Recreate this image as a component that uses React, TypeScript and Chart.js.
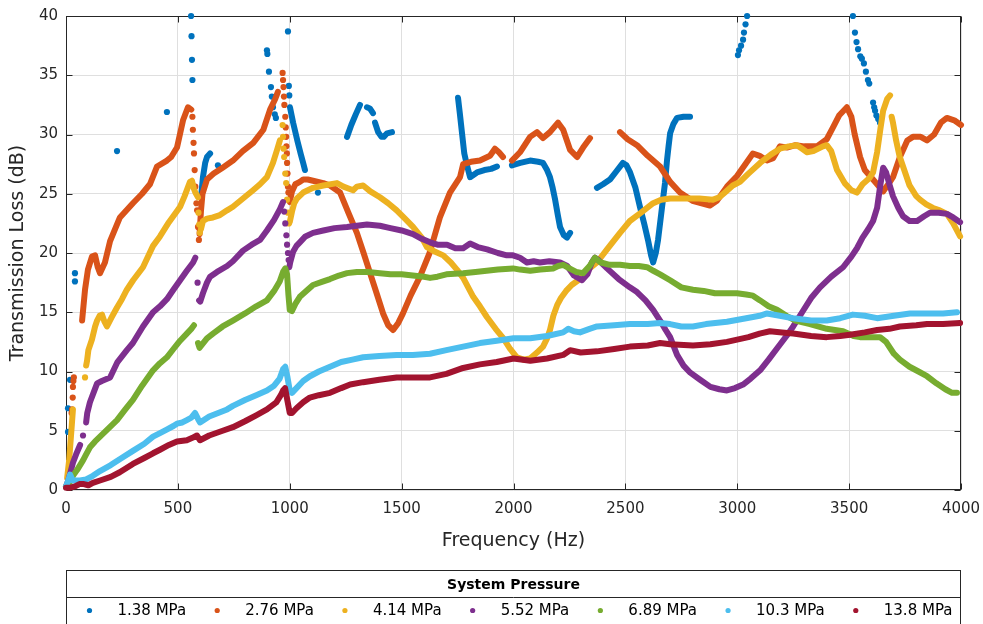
import React, { useEffect, useRef } from 'react';
import { Chart, registerables } from 'chart.js';

Chart.register(...registerables);

type Pt = [number, number];

const SERIES_LABELS = ['1.38 MPa', '2.76 MPa', '4.14 MPa', '5.52 MPa', '6.89 MPa', '10.3 MPa', '13.8 MPa'];
const SERIES_COLORS = ['#0072BD', '#D95319', '#EDB120', '#7E2F8E', '#77AC30', '#4DBEEE', '#A2142F'];
const X_TICKS = [0, 500, 1000, 1500, 2000, 2500, 3000, 3500, 4000];
const Y_TICKS = [0, 5, 10, 15, 20, 25, 30, 35, 40];
const LEGEND_TITLE = 'System Pressure';
const X_TITLE = 'Frequency (Hz)';
const Y_TITLE = 'Transmission Loss (dB)';

// 1.38 MPa
const P138_SEGMENTS: Pt[][] = [
  [[605, 25.0], [612, 26.4], [622, 27.6], [630, 28.1], [644, 28.4]],
  [[1001, 32.3], [1015, 31.0], [1035, 29.4], [1050, 28.3], [1060, 27.6], [1068, 27.0]],
  [[1256, 29.8], [1275, 30.8], [1295, 31.7], [1314, 32.5]],
  [[1345, 32.3], [1358, 32.2], [1372, 31.8]],
  [[1381, 31.0], [1395, 30.2], [1410, 29.8], [1420, 29.8], [1435, 30.1], [1457, 30.2]],
  [[1752, 33.1], [1760, 31.8], [1770, 30.1], [1780, 28.4], [1792, 27.4], [1806, 26.4], [1837, 26.8], [1870, 27.0], [1900, 27.1], [1926, 27.3]],
  [[1993, 27.4], [2030, 27.6], [2074, 27.8], [2110, 27.7], [2132, 27.6], [2150, 27.0], [2163, 26.4], [2175, 25.5], [2186, 24.5], [2198, 23.2], [2208, 22.2], [2225, 21.5], [2239, 21.3], [2253, 21.7]],
  [[2373, 25.5], [2400, 25.8], [2431, 26.2], [2460, 26.9], [2489, 27.6], [2505, 27.4], [2521, 26.8], [2545, 25.5], [2565, 23.9], [2585, 22.4], [2601, 21.1], [2615, 19.8], [2624, 19.2], [2636, 20.0], [2646, 21.1], [2655, 22.5], [2664, 23.9], [2677, 25.9], [2686, 27.8], [2693, 29.0], [2700, 30.1], [2715, 30.9], [2731, 31.4], [2760, 31.5], [2789, 31.5]],
];
const P138_DOTS: Pt[] = [
  [9, 4.9], [9, 6.9], [18, 9.3], [40, 17.6], [40, 18.3], [228, 28.6], [451, 31.9],
  [559, 40.0], [561, 38.3], [563, 36.3], [565, 34.6], [679, 27.4],
  [898, 37.1], [900, 36.8], [907, 35.3], [916, 34.0], [920, 33.2], [925, 32.3], [933, 31.7], [938, 31.4],
  [992, 38.7], [996, 34.1], [998, 33.3], [1126, 25.1],
  [3003, 36.7], [3008, 37.1], [3017, 37.5], [3026, 38.0], [3030, 38.6], [3037, 39.3], [3044, 40.0],
  [3517, 40.0], [3526, 38.6], [3533, 37.8], [3540, 37.2], [3550, 36.6], [3557, 36.4], [3566, 36.0], [3575, 35.3],
  [3584, 34.6], [3590, 34.3], [3607, 32.7], [3612, 32.3], [3616, 32.0], [3622, 31.6], [3630, 31.3], [3638, 31.0],
];

// 2.76 MPa
const P276_SEGMENTS: Pt[][] = [
  [[72, 14.3], [85, 16.9], [98, 18.6], [116, 19.7], [130, 19.8], [142, 18.8], [152, 18.3], [174, 19.2], [197, 21.0], [241, 23.0], [299, 24.2], [340, 25.0], [375, 25.8], [407, 27.3], [451, 27.8], [470, 28.1], [496, 28.9], [523, 31.2], [545, 32.3], [560, 32.1]],
  [[597, 21.6], [603, 23.5], [610, 25.0], [630, 26.2], [660, 26.7], [700, 27.2], [746, 27.8], [790, 28.6], [837, 29.3], [882, 30.4], [912, 32.1], [935, 33.0], [947, 33.6]],
  [[996, 24.5], [1000, 24.3], [1010, 25.2], [1025, 25.8], [1045, 26.0], [1060, 26.2], [1080, 26.2], [1104, 26.1], [1150, 25.9], [1180, 25.7], [1225, 25.1], [1260, 23.5], [1300, 21.7], [1330, 20.0], [1359, 18.3], [1390, 16.5], [1417, 14.9], [1440, 13.9], [1462, 13.5], [1485, 14.1], [1506, 14.9], [1540, 16.4], [1582, 18.0], [1625, 20.0], [1671, 23.0], [1716, 25.1], [1761, 26.4], [1775, 27.5], [1810, 27.7], [1850, 27.8], [1895, 28.2], [1917, 28.8], [1935, 28.5], [1953, 28.1]],
  [[1993, 27.8], [2029, 28.5], [2074, 29.8], [2105, 30.2], [2132, 29.7], [2163, 30.2], [2199, 31.0], [2222, 30.4], [2253, 28.7], [2284, 28.1], [2311, 28.9], [2342, 29.7]],
  [[2476, 30.2], [2510, 29.6], [2552, 29.1], [2600, 28.2], [2655, 27.3], [2700, 26.0], [2744, 25.1], [2800, 24.4], [2878, 24.0], [2909, 24.4], [2954, 25.6], [2999, 26.5], [3040, 27.6], [3070, 28.4], [3100, 28.2], [3133, 27.8], [3160, 28.0], [3191, 29.0], [3222, 28.9], [3260, 29.1], [3300, 29.0], [3356, 29.0], [3400, 29.6], [3428, 30.6], [3455, 31.6], [3490, 32.3], [3510, 31.5], [3525, 30.0], [3549, 28.1], [3570, 27.0], [3607, 26.2], [3652, 25.2], [3675, 25.8], [3696, 26.4], [3727, 28.1], [3760, 29.5], [3785, 29.8], [3820, 29.8], [3848, 29.5], [3880, 30.0], [3910, 31.0], [3937, 31.4], [3970, 31.2], [4000, 30.8]],
];
const P276_DOTS: Pt[] = [
  [25, 6.5], [27, 6.8], [30, 7.8], [31, 8.7], [33, 9.2], [35, 9.5],
  [565, 31.5], [567, 30.4], [570, 29.3], [572, 28.4], [575, 27.0], [578, 25.6], [583, 24.2], [586, 23.6], [590, 22.2], [594, 21.1],
  [968, 35.2], [970, 34.6], [972, 34.0], [974, 33.2], [976, 32.5], [980, 31.5], [982, 30.6], [984, 29.8], [985, 29.0], [987, 28.4], [988, 27.6], [990, 26.7], [992, 25.6], [994, 25.1],
];

// 4.14 MPa
const P414_SEGMENTS: Pt[][] = [
  [[5, 1.0], [14, 2.5], [20, 4.0], [26, 5.5], [31, 6.8]],
  [[90, 10.5], [94, 10.9], [100, 11.8], [116, 12.7], [130, 13.8], [139, 14.3], [150, 14.7], [161, 14.8], [172, 14.2], [183, 13.8], [205, 14.6], [228, 15.4], [250, 16.1], [272, 16.9], [300, 17.7], [344, 18.8], [389, 20.6], [420, 21.4], [460, 22.6], [510, 23.9], [530, 24.8], [554, 26.0], [563, 26.1], [572, 25.4], [578, 25.1], [590, 24.7]],
  [[603, 22.0], [612, 22.7], [630, 22.9], [657, 23.0], [688, 23.2], [720, 23.6], [746, 23.9], [791, 24.6], [836, 25.3], [867, 25.8], [898, 26.4], [925, 27.6], [945, 28.8], [956, 29.5]],
  [[1000, 22.6], [1010, 23.5], [1020, 24.2], [1032, 24.6], [1060, 25.1], [1104, 25.5], [1150, 25.7], [1211, 25.9], [1240, 25.6], [1283, 25.3], [1300, 25.6], [1328, 25.7], [1360, 25.2], [1403, 24.7], [1440, 24.2], [1478, 23.6], [1515, 22.9], [1551, 22.2], [1590, 21.3], [1613, 20.5], [1650, 20.1], [1686, 19.8], [1720, 19.2], [1747, 18.6], [1775, 17.9], [1820, 16.3], [1850, 15.5], [1881, 14.6], [1920, 13.6], [1955, 12.8], [1985, 11.9], [2015, 11.2], [2045, 11.0], [2074, 11.1], [2105, 11.6], [2132, 12.1], [2150, 12.8], [2163, 13.5], [2178, 14.7], [2195, 15.6], [2212, 16.2], [2235, 16.8], [2260, 17.3], [2311, 18.0], [2340, 18.7], [2373, 19.2], [2418, 20.3], [2476, 21.7], [2520, 22.7], [2570, 23.4], [2624, 24.2], [2660, 24.5], [2700, 24.6], [2775, 24.6], [2830, 24.6], [2892, 24.5], [2920, 24.7], [2950, 25.2], [2980, 25.7], [3012, 26.0], [3050, 26.7], [3102, 27.6], [3150, 28.3], [3191, 28.8], [3230, 29.0], [3267, 29.1], [3290, 28.8], [3312, 28.5], [3340, 28.6], [3383, 29.0], [3400, 29.1], [3420, 28.6], [3446, 27.0], [3480, 25.9], [3510, 25.3], [3535, 25.1], [3560, 25.8], [3590, 26.3], [3607, 26.8], [3625, 28.5], [3640, 30.5], [3652, 32.0], [3670, 33.0], [3683, 33.3]],
  [[3690, 31.5], [3696, 31.0], [3710, 29.5], [3725, 28.2], [3741, 27.3], [3770, 25.7], [3800, 24.8], [3817, 24.5], [3845, 24.1], [3875, 23.8], [3905, 23.6], [3937, 23.3], [3965, 22.5], [3996, 21.4]],
];
const P414_DOTS: Pt[] = [
  [85, 9.5], [592, 23.4], [595, 22.4], [598, 21.7],
  [968, 30.8], [970, 29.8], [972, 28.8], [975, 28.1], [980, 26.7], [984, 25.9], [988, 24.5], [992, 23.4], [996, 22.5],
];

// 5.52 MPa
const P552_SEGMENTS: Pt[][] = [
  [[0, 0.3], [10, 0.8], [20, 1.5], [31, 2.3], [45, 3.0], [63, 3.8]],
  [[90, 5.7], [95, 6.5], [107, 7.4], [125, 8.3], [139, 9.0], [160, 9.2], [197, 9.5], [230, 10.8], [272, 11.8], [299, 12.4], [344, 13.8], [389, 15.0], [420, 15.5], [451, 16.1], [480, 16.9], [510, 17.7], [540, 18.5], [568, 19.2], [578, 19.6]],
  [[595, 16.0], [600, 15.9], [612, 16.6], [630, 17.5], [644, 18.0], [675, 18.4], [720, 18.9], [746, 19.3], [791, 20.2], [830, 20.7], [867, 21.1], [898, 21.9], [930, 22.8], [956, 23.7], [970, 24.3]],
  [[998, 18.8], [1002, 19.2], [1015, 20.1], [1030, 20.6], [1045, 20.9], [1070, 21.4], [1104, 21.7], [1150, 21.9], [1200, 22.1], [1256, 22.2], [1300, 22.3], [1345, 22.4], [1403, 22.3], [1450, 22.1], [1500, 21.9], [1551, 21.6], [1590, 21.2], [1627, 20.9], [1660, 20.7], [1703, 20.7], [1740, 20.4], [1775, 20.4], [1806, 20.8], [1840, 20.5], [1882, 20.3], [1930, 20.0], [1970, 19.8], [1998, 19.8], [2029, 19.6], [2060, 19.2], [2090, 19.3], [2118, 19.2], [2160, 19.3], [2208, 19.2], [2240, 18.9], [2270, 18.1], [2306, 17.7], [2330, 18.2], [2350, 19.2], [2364, 19.6], [2380, 19.4], [2418, 18.7], [2470, 17.8], [2520, 17.1], [2552, 16.7], [2590, 16.0], [2624, 15.2], [2655, 14.3], [2680, 13.5], [2700, 12.9], [2731, 11.4], [2760, 10.5], [2790, 9.9], [2834, 9.3], [2880, 8.7], [2920, 8.5], [2954, 8.4], [2990, 8.6], [3026, 8.9], [3060, 9.4], [3102, 10.1], [3140, 11.0], [3180, 12.0], [3220, 13.0], [3250, 13.8], [3290, 15.0], [3330, 16.2], [3370, 17.1], [3420, 18.0], [3473, 18.8], [3510, 19.7], [3535, 20.4], [3560, 21.3], [3585, 22.0], [3607, 22.7], [3625, 23.8], [3640, 25.8], [3652, 27.2], [3665, 26.8], [3680, 25.8], [3696, 24.8], [3720, 23.8], [3741, 23.1], [3770, 22.7], [3804, 22.7], [3835, 23.1], [3861, 23.4], [3900, 23.4], [3937, 23.3], [3965, 23.0], [3996, 22.6]],
];
const P552_DOTS: Pt[] = [
  [76, 4.6], [588, 17.5],
  [975, 23.5], [980, 22.5], [985, 21.5], [988, 20.7], [992, 20.0], [995, 19.4],
];

// 6.89 MPa
const P689_SEGMENTS: Pt[][] = [
  [[0, 0.3], [15, 0.6], [31, 1.2], [50, 1.7], [76, 2.5], [90, 3.0], [107, 3.6], [130, 4.1], [152, 4.5], [190, 5.2], [228, 5.9], [265, 6.8], [299, 7.6], [340, 8.8], [389, 10.1], [420, 10.7], [451, 11.2], [480, 11.9], [510, 12.6], [540, 13.2], [560, 13.6], [572, 13.9]],
  [[590, 12.4], [597, 12.0], [605, 12.2], [630, 12.8], [657, 13.2], [700, 13.8], [746, 14.3], [800, 14.9], [850, 15.5], [898, 16.0], [930, 16.8], [955, 17.6], [970, 18.4], [980, 18.7], [988, 18.2], [994, 16.5], [1000, 15.2], [1010, 15.1], [1025, 15.7], [1045, 16.3], [1080, 16.9], [1104, 17.3], [1150, 17.6], [1180, 17.8], [1220, 18.1], [1256, 18.3], [1300, 18.4], [1350, 18.4], [1403, 18.3], [1450, 18.2], [1500, 18.2], [1550, 18.1], [1600, 18.0], [1627, 17.9], [1660, 18.0], [1700, 18.2], [1775, 18.3], [1830, 18.4], [1880, 18.5], [1930, 18.6], [1998, 18.7], [2029, 18.6], [2075, 18.5], [2120, 18.6], [2177, 18.7], [2200, 18.9], [2222, 19.0], [2250, 18.7], [2280, 18.4], [2311, 18.3], [2340, 18.9], [2364, 19.6], [2390, 19.2], [2430, 19.0], [2476, 19.0], [2520, 18.9], [2560, 18.9], [2597, 18.8], [2625, 18.5], [2655, 18.2], [2700, 17.7], [2750, 17.1], [2802, 16.9], [2850, 16.8], [2900, 16.6], [2950, 16.6], [2999, 16.6], [3040, 16.5], [3070, 16.4], [3102, 16.0], [3140, 15.5], [3178, 15.2], [3220, 14.7], [3260, 14.3], [3325, 14.0], [3400, 13.6], [3473, 13.4], [3520, 13.0], [3549, 12.9], [3600, 12.9], [3638, 12.9], [3665, 12.5], [3700, 11.5], [3727, 11.0], [3770, 10.4], [3810, 10.0], [3848, 9.6], [3890, 9.0], [3930, 8.5], [3960, 8.2], [3982, 8.2]],
];
const P689_DOTS: Pt[] = [];

// 10.3 MPa
const P103_SEGMENTS: Pt[][] = [
  [[0, 0.3], [10, 0.8], [18, 1.3], [30, 0.8], [63, 0.8], [90, 0.9], [120, 1.2], [152, 1.6], [200, 2.1], [240, 2.6], [299, 3.3], [350, 3.9], [389, 4.5], [420, 4.8], [450, 5.1], [480, 5.4], [496, 5.6], [520, 5.7], [540, 5.9], [560, 6.1], [577, 6.5], [590, 6.0], [599, 5.7], [640, 6.2], [680, 6.5], [720, 6.8], [746, 7.1], [800, 7.6], [850, 8.0], [898, 8.4], [930, 8.8], [955, 9.4], [970, 10.2], [980, 10.4], [990, 9.5], [1000, 8.4], [1010, 8.2], [1030, 8.6], [1060, 9.2], [1090, 9.6], [1130, 10.0], [1180, 10.4], [1230, 10.8], [1280, 11.0], [1328, 11.2], [1400, 11.3], [1478, 11.4], [1550, 11.4], [1627, 11.5], [1700, 11.8], [1775, 12.1], [1850, 12.4], [1925, 12.6], [2000, 12.8], [2075, 12.8], [2150, 13.0], [2222, 13.3], [2245, 13.6], [2270, 13.4], [2297, 13.3], [2340, 13.6], [2373, 13.8], [2450, 13.9], [2520, 14.0], [2600, 14.0], [2655, 14.1], [2700, 14.0], [2750, 13.8], [2802, 13.8], [2860, 14.0], [2954, 14.2], [3040, 14.5], [3100, 14.7], [3133, 14.9], [3190, 14.7], [3250, 14.5], [3330, 14.3], [3400, 14.3], [3460, 14.5], [3517, 14.8], [3570, 14.7], [3625, 14.5], [3700, 14.7], [3772, 14.9], [3850, 14.9], [3920, 14.9], [3982, 15.0]],
];
const P103_DOTS: Pt[] = [];

// 13.8 MPa
const P138B_SEGMENTS: Pt[][] = [
  [[0, 0.2], [20, 0.2], [40, 0.3], [60, 0.5], [80, 0.5], [100, 0.4], [120, 0.6], [152, 0.8], [200, 1.1], [240, 1.5], [299, 2.2], [350, 2.7], [389, 3.1], [420, 3.4], [460, 3.8], [496, 4.1], [540, 4.2], [565, 4.4], [585, 4.6], [599, 4.2], [640, 4.6], [700, 5.0], [746, 5.3], [800, 5.8], [850, 6.3], [898, 6.8], [940, 7.4], [960, 8.0], [970, 8.4], [979, 8.6], [990, 7.5], [1000, 6.5], [1010, 6.5], [1030, 6.9], [1060, 7.4], [1090, 7.8], [1130, 8.0], [1180, 8.2], [1230, 8.6], [1270, 8.9], [1328, 9.1], [1400, 9.3], [1478, 9.5], [1550, 9.5], [1627, 9.5], [1700, 9.8], [1775, 10.3], [1850, 10.6], [1925, 10.8], [2000, 11.1], [2075, 10.9], [2150, 11.1], [2222, 11.4], [2253, 11.8], [2300, 11.6], [2373, 11.7], [2450, 11.9], [2520, 12.1], [2600, 12.2], [2655, 12.4], [2700, 12.3], [2802, 12.2], [2880, 12.3], [2954, 12.5], [3050, 12.9], [3100, 13.2], [3146, 13.4], [3200, 13.3], [3250, 13.2], [3330, 13.0], [3400, 12.9], [3460, 13.0], [3504, 13.1], [3570, 13.3], [3625, 13.5], [3680, 13.6], [3727, 13.8], [3800, 13.9], [3848, 14.0], [3920, 14.0], [3996, 14.1]],
];
const P138B_DOTS: Pt[] = [];

const SERIES_SEGMENTS: Pt[][][] = [P138_SEGMENTS, P276_SEGMENTS, P414_SEGMENTS, P552_SEGMENTS, P689_SEGMENTS, P103_SEGMENTS, P138B_SEGMENTS];
const SERIES_DOTS: Pt[][] = [P138_DOTS, P276_DOTS, P414_DOTS, P552_DOTS, P689_DOTS, P103_DOTS, P138B_DOTS];

const FONT = "'DejaVu Sans', 'Liberation Sans', sans-serif";
const AXIS_COLOR = '#262626';
const GRID_COLOR = '#dfdfdf';

function segmentsToData(segs: Pt[][]) {
  const out: { x: number; y: number | null }[] = [];
  segs.forEach((seg, k) => {
    if (k > 0) out.push({ x: seg[0][0], y: null });
    seg.forEach(([x, y]) => out.push({ x, y }));
  });
  return out;
}

const axesBoxPlugin = {
  id: 'axesBox',
  beforeDatasetsDraw(chart: any) {
    const { ctx, chartArea, scales } = chart;
    const { left, right, top, bottom } = chartArea;
    const L = Math.round(left) + 0.5, R = Math.round(right) - 0.5;
    const T = Math.round(top) + 0.5, B = Math.round(bottom) - 0.5;
    const tl = 6;
    ctx.save();
    ctx.strokeStyle = AXIS_COLOR;
    ctx.lineWidth = 1;
    ctx.beginPath();
    X_TICKS.forEach((v) => {
      const px = Math.round(scales.x.getPixelForValue(v)) + 0.5;
      ctx.moveTo(px, B); ctx.lineTo(px, B - tl);
      ctx.moveTo(px, T); ctx.lineTo(px, T + tl);
    });
    Y_TICKS.forEach((v) => {
      const py = Math.round(scales.y.getPixelForValue(v)) + 0.5;
      ctx.moveTo(L, py); ctx.lineTo(L + tl, py);
      ctx.moveTo(R, py); ctx.lineTo(R - tl, py);
    });
    ctx.stroke();
    ctx.strokeRect(L, T, R - L, B - T);
    ctx.restore();
  },
};

const boxLegendPlugin = {
  id: 'boxLegend',
  afterDraw(chart: any) {
    const { ctx, chartArea } = chart;
    const left = Math.round(chartArea.left) + 0.5;
    const right = Math.round(chartArea.right) - 0.5;
    const h = chart.height;
    const top = h - 53.5;
    const sep = h - 26.5;
    ctx.save();
    ctx.fillStyle = '#ffffff';
    ctx.fillRect(left, top, right - left, h - top + 10);
    ctx.strokeStyle = AXIS_COLOR;
    ctx.lineWidth = 1;
    ctx.strokeRect(left, top, right - left, h - top + 10);
    ctx.beginPath();
    ctx.moveTo(left, sep);
    ctx.lineTo(right, sep);
    ctx.stroke();
    ctx.fillStyle = '#000000';
    ctx.font = `bold 14px ${FONT}`;
    ctx.textAlign = 'center';
    ctx.textBaseline = 'middle';
    ctx.fillText(LEGEND_TITLE, (left + right) / 2, (top + sep) / 2 + 1);
    const slot = (right - left) / SERIES_LABELS.length;
    const rowY = sep + 14;
    ctx.font = `15px ${FONT}`;
    ctx.textAlign = 'left';
    SERIES_LABELS.forEach((label, i) => {
      const x0 = left + slot * i;
      ctx.fillStyle = SERIES_COLORS[i];
      ctx.beginPath();
      ctx.arc(x0 + 23, rowY - 1, 2.6, 0, Math.PI * 2);
      ctx.fill();
      ctx.fillStyle = '#000000';
      ctx.fillText(label, x0 + 51, rowY);
    });
    ctx.restore();
  },
};

export default function App() {
  const canvasRef = useRef<HTMLCanvasElement | null>(null);

  useEffect(() => {
    if (!canvasRef.current) return;
    const datasets: any[] = [];
    SERIES_LABELS.forEach((label, i) => {
      datasets.push({
        label,
        data: segmentsToData(SERIES_SEGMENTS[i]),
        showLine: true,
        spanGaps: false,
        borderColor: SERIES_COLORS[i],
        backgroundColor: SERIES_COLORS[i],
        borderWidth: 6,
        borderCapStyle: 'round',
        borderJoinStyle: 'round',
        pointRadius: 0,
        pointHoverRadius: 0,
        tension: 0,
        clip: 5,
        order: 100 - i * 2,
      });
      datasets.push({
        label: label + ' (samples)',
        data: SERIES_DOTS[i].map(([x, y]) => ({ x, y })),
        showLine: false,
        pointRadius: 3.1,
        pointBorderWidth: 0,
        pointBackgroundColor: SERIES_COLORS[i],
        borderColor: SERIES_COLORS[i],
        clip: 5,
        order: 99 - i * 2,
      });
    });

    const chart = new Chart(canvasRef.current, {
      type: 'scatter',
      data: { datasets },
      options: {
        animation: false,
        responsive: true,
        maintainAspectRatio: false,
        events: [],
        layout: { padding: { top: 16, right: 22, bottom: 58, left: 0 } },
        plugins: {
          legend: { display: false },
          tooltip: { enabled: false },
        },
        scales: {
          x: {
            type: 'linear',
            min: 0,
            max: 4000,
            afterBuildTicks: (s: any) => { s.ticks = X_TICKS.map((v) => ({ value: v })); },
            afterFit: (s: any) => { s.height = 76; s.paddingLeft = 0; s.paddingRight = 0; },
            grid: { color: GRID_COLOR, drawTicks: false, lineWidth: 1 },
            border: { display: false },
            ticks: { color: AXIS_COLOR, font: { family: FONT, size: 15 }, padding: 10, maxRotation: 0, autoSkip: false, callback: (v: any) => String(v) },
            title: { display: true, text: X_TITLE, color: AXIS_COLOR, font: { family: FONT, size: 19 }, padding: { top: 0, bottom: 14 } },
          },
          y: {
            type: 'linear',
            min: 0,
            max: 40,
            afterBuildTicks: (s: any) => { s.ticks = Y_TICKS.map((v) => ({ value: v })); },
            afterFit: (s: any) => { s.width = 66; s.paddingTop = 0; s.paddingBottom = 0; },
            grid: { color: GRID_COLOR, drawTicks: false, lineWidth: 1 },
            border: { display: false },
            ticks: { color: AXIS_COLOR, font: { family: FONT, size: 15 }, padding: 8, autoSkip: false, callback: (v: any) => String(v) },
            title: { display: true, text: Y_TITLE, color: AXIS_COLOR, font: { family: FONT, size: 19 }, padding: { top: 7, bottom: 0 } },
          },
        },
      },
      plugins: [axesBoxPlugin, boxLegendPlugin],
    } as any);

    return () => chart.destroy();
  }, []);

  return (
    <div style={{ position: 'fixed', left: 0, top: 0, width: 983, height: 624, background: '#ffffff' }}>
      <canvas ref={canvasRef} />
    </div>
  );
}
